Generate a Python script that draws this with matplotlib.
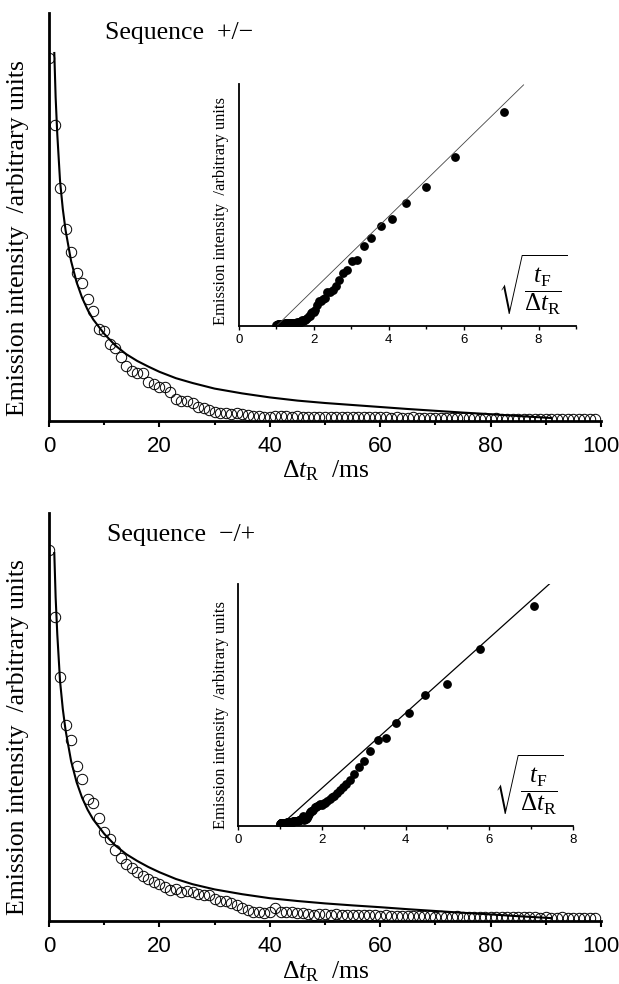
import numpy as np
import matplotlib
matplotlib.use('Agg')
import matplotlib.pyplot as plt
from matplotlib.ticker import MultipleLocator

plt.rcParams['font.family'] = ['Liberation Sans', 'DejaVu Sans']
plt.rcParams['mathtext.fontset'] = 'custom'
plt.rcParams['mathtext.rm'] = 'Liberation Serif'
plt.rcParams['mathtext.it'] = 'Liberation Serif:italic'
plt.rcParams['mathtext.bf'] = 'Liberation Serif:bold'

SERIF = ['Liberation Serif', 'DejaVu Serif']

# delay between pulses (ms), one point per ms
delay = np.arange(100)
t_F = 100.0

# emission intensity, sequence +/-
intensity_pm = [9.08, 7.40, 5.83, 4.80, 4.23, 3.69, 3.44, 3.04, 2.76, 2.29,
                2.26, 1.93, 1.82, 1.59, 1.38, 1.25, 1.19, 1.19, 0.98, 0.93,
                0.86, 0.86, 0.73, 0.54, 0.50, 0.50, 0.46, 0.36, 0.33, 0.28,
                0.23, 0.21, 0.21, 0.18, 0.21, 0.18, 0.15, 0.13, 0.13, 0.11,
                0.11, 0.13, 0.12, 0.12, 0.11, 0.12, 0.11, 0.11, 0.10, 0.11,
                0.10, 0.10, 0.11, 0.10, 0.10, 0.09, 0.10, 0.09, 0.09, 0.10,
                0.09, 0.09, 0.08, 0.09, 0.08, 0.08, 0.09, 0.08, 0.08, 0.08,
                0.07, 0.08, 0.07, 0.07, 0.08, 0.07, 0.07, 0.07, 0.06, 0.07,
                0.06, 0.07, 0.06, 0.06, 0.06, 0.06, 0.05, 0.06, 0.05, 0.06,
                0.05, 0.05, 0.05, 0.05, 0.05, 0.04, 0.05, 0.04, 0.04, 0.04]

# emission intensity, sequence -/+
intensity_mp = [9.28, 7.59, 6.11, 4.90, 4.52, 3.88, 3.54, 3.04, 2.94, 2.57,
                2.23, 2.04, 1.78, 1.57, 1.43, 1.32, 1.23, 1.13, 1.04, 0.98,
                0.93, 0.86, 0.78, 0.79, 0.73, 0.76, 0.73, 0.68, 0.65, 0.65,
                0.54, 0.51, 0.51, 0.46, 0.40, 0.32, 0.28, 0.23, 0.23, 0.19,
                0.23, 0.32, 0.23, 0.23, 0.23, 0.21, 0.19, 0.18, 0.15, 0.17,
                0.17, 0.16, 0.17, 0.16, 0.15, 0.16, 0.15, 0.14, 0.15, 0.14,
                0.13, 0.14, 0.13, 0.13, 0.12, 0.13, 0.12, 0.12, 0.13, 0.12,
                0.11, 0.12, 0.11, 0.11, 0.12, 0.11, 0.10, 0.11, 0.10, 0.10,
                0.11, 0.10, 0.10, 0.09, 0.10, 0.09, 0.10, 0.09, 0.09, 0.08,
                0.09, 0.08, 0.08, 0.09, 0.08, 0.08, 0.07, 0.08, 0.07, 0.07]

# fitted curve (main panels)
fit_t = [0.96, 1.2, 1.5, 2, 2.5, 3, 4, 5, 6, 7, 8, 10, 12, 14, 16, 18, 20, 23,
         26, 30, 35, 40, 45, 50, 55, 60, 65, 70, 75, 80, 85, 91]
fit_pm = [9.2, 8.1, 7.17, 6.0, 5.3, 4.77, 4.0, 3.47, 3.08, 2.78, 2.54, 2.18,
          1.89, 1.67, 1.5, 1.36, 1.23, 1.07, 0.95, 0.81, 0.69, 0.59, 0.51,
          0.45, 0.40, 0.35, 0.30, 0.255, 0.21, 0.17, 0.125, 0.075]
fit_mp = [9.2, 8.1, 7.17, 6.0, 5.3, 4.77, 4.0, 3.47, 3.08, 2.78, 2.54, 2.18,
          1.89, 1.67, 1.5, 1.35, 1.22, 1.05, 0.92, 0.79, 0.67, 0.57, 0.50,
          0.44, 0.39, 0.345, 0.295, 0.25, 0.205, 0.165, 0.12, 0.072]

# straight-line fits in the insets
line_pm_x = [1.0, 7.6]
line_pm_y = [0.0, 8.32]
line_mp_x = [1.0, 7.45]
line_mp_y = [0.0, 8.35]

W, H = 619, 984
fig = plt.figure(figsize=(W / 100, H / 100), dpi=100)

root_x = np.sqrt(t_F / (delay + 1))

panels = [
    dict(main=[49, 421], ins=[239, 326, 337], ins_xmax=9,
         y=intensity_pm, fit=fit_pm, lx=line_pm_x, ly=line_pm_y,
         lcol='#444444', llw=0.6, title='Sequence  +/\u2212', title_xy=(105, 33),
         ylab_y=238.5, ins_lab_y=210.8, xlab_y=477, sq=(568, 317)),
    dict(main=[49, 921], ins=[238.3, 825.7, 334.4], ins_xmax=8,
         y=intensity_mp, fit=fit_mp, lx=line_mp_x, ly=line_mp_y,
         lcol='black', llw=0.9, title='Sequence  \u2212/+', title_xy=(107, 535),
         ylab_y=737.5, ins_lab_y=715, xlab_y=978, sq=(564, 817)),
]

for p in panels:
    x0, yb = p['main']
    ax = fig.add_axes([x0 / W, 1 - yb / H, 552 / W, 408 / H])
    ax.plot(delay, p['y'], 'o', ms=7.5, mfc='none', mec='black', mew=0.7)
    ax.plot(fit_t, p['fit'], '-', color='black', lw=1.5)
    ax.set_xlim(0, 100)
    ax.set_ylim(0, 10.2)
    for s in ['top', 'right']:
        ax.spines[s].set_visible(False)
    for s in ['left', 'bottom']:
        ax.spines[s].set_linewidth(2)
    ax.set_yticks([])
    ax.xaxis.set_major_locator(MultipleLocator(20))
    ax.xaxis.set_minor_locator(MultipleLocator(10))
    ax.tick_params(axis='x', which='major', direction='out', length=4.5,
                   width=1.5, labelsize=16, pad=6)
    ax.tick_params(axis='x', which='minor', direction='out', length=3, width=1.5)

    ix, iy, iw = p['ins']
    ins = fig.add_axes([ix / W, 1 - iy / H, iw / W, 242 / H])
    ins.plot(root_x, p['y'], 'o', ms=5.3, color='black')
    ins.plot(p['lx'], p['ly'], '-', color=p['lcol'], lw=p['llw'])
    ins.set_xlim(0, p['ins_xmax'])
    ins.set_ylim(0, 8.35)
    for s in ['top', 'right']:
        ins.spines[s].set_visible(False)
    for s in ['left', 'bottom']:
        ins.spines[s].set_linewidth(1.3)
    ins.set_yticks([])
    ins.xaxis.set_major_locator(MultipleLocator(2))
    ins.xaxis.set_minor_locator(MultipleLocator(1))
    ins.tick_params(axis='x', which='major', direction='out', length=3,
                    width=1, labelsize=9.5, pad=3)
    ins.tick_params(axis='x', which='minor', direction='out', length=2, width=1)
    sx, sy = p['sq']
    ins.text((sx - ix) / iw, (iy - sy) / 242,
             r'$\sqrt{\dfrac{t_{\mathrm{F}}}{\Delta t_{\mathrm{R}}}}$',
             transform=ins.transAxes, ha='right', va='bottom', fontsize=18)

    tx, ty = p['title_xy']
    fig.text(tx / W, 1 - ty / H, p['title'], family=SERIF, fontsize=18.5,
             va='center', ha='left')
    fig.text(18 / W, 1 - p['ylab_y'] / H, 'Emission intensity  /arbitrary units',
             family=SERIF, fontsize=18.5, rotation=90, ha='center', va='center')
    fig.text(220.7 / W, 1 - p['ins_lab_y'] / H,
             'Emission intensity  /arbitrary units',
             family=SERIF, fontsize=11.9, rotation=90, ha='center', va='center')
    fig.text(326 / W, 1 - p['xlab_y'] / H, r'$\Delta t_{\mathrm{R}}$  /ms',
             family=SERIF, fontsize=18.5, ha='center', va='baseline')

fig.savefig('out.png', dpi=100)
